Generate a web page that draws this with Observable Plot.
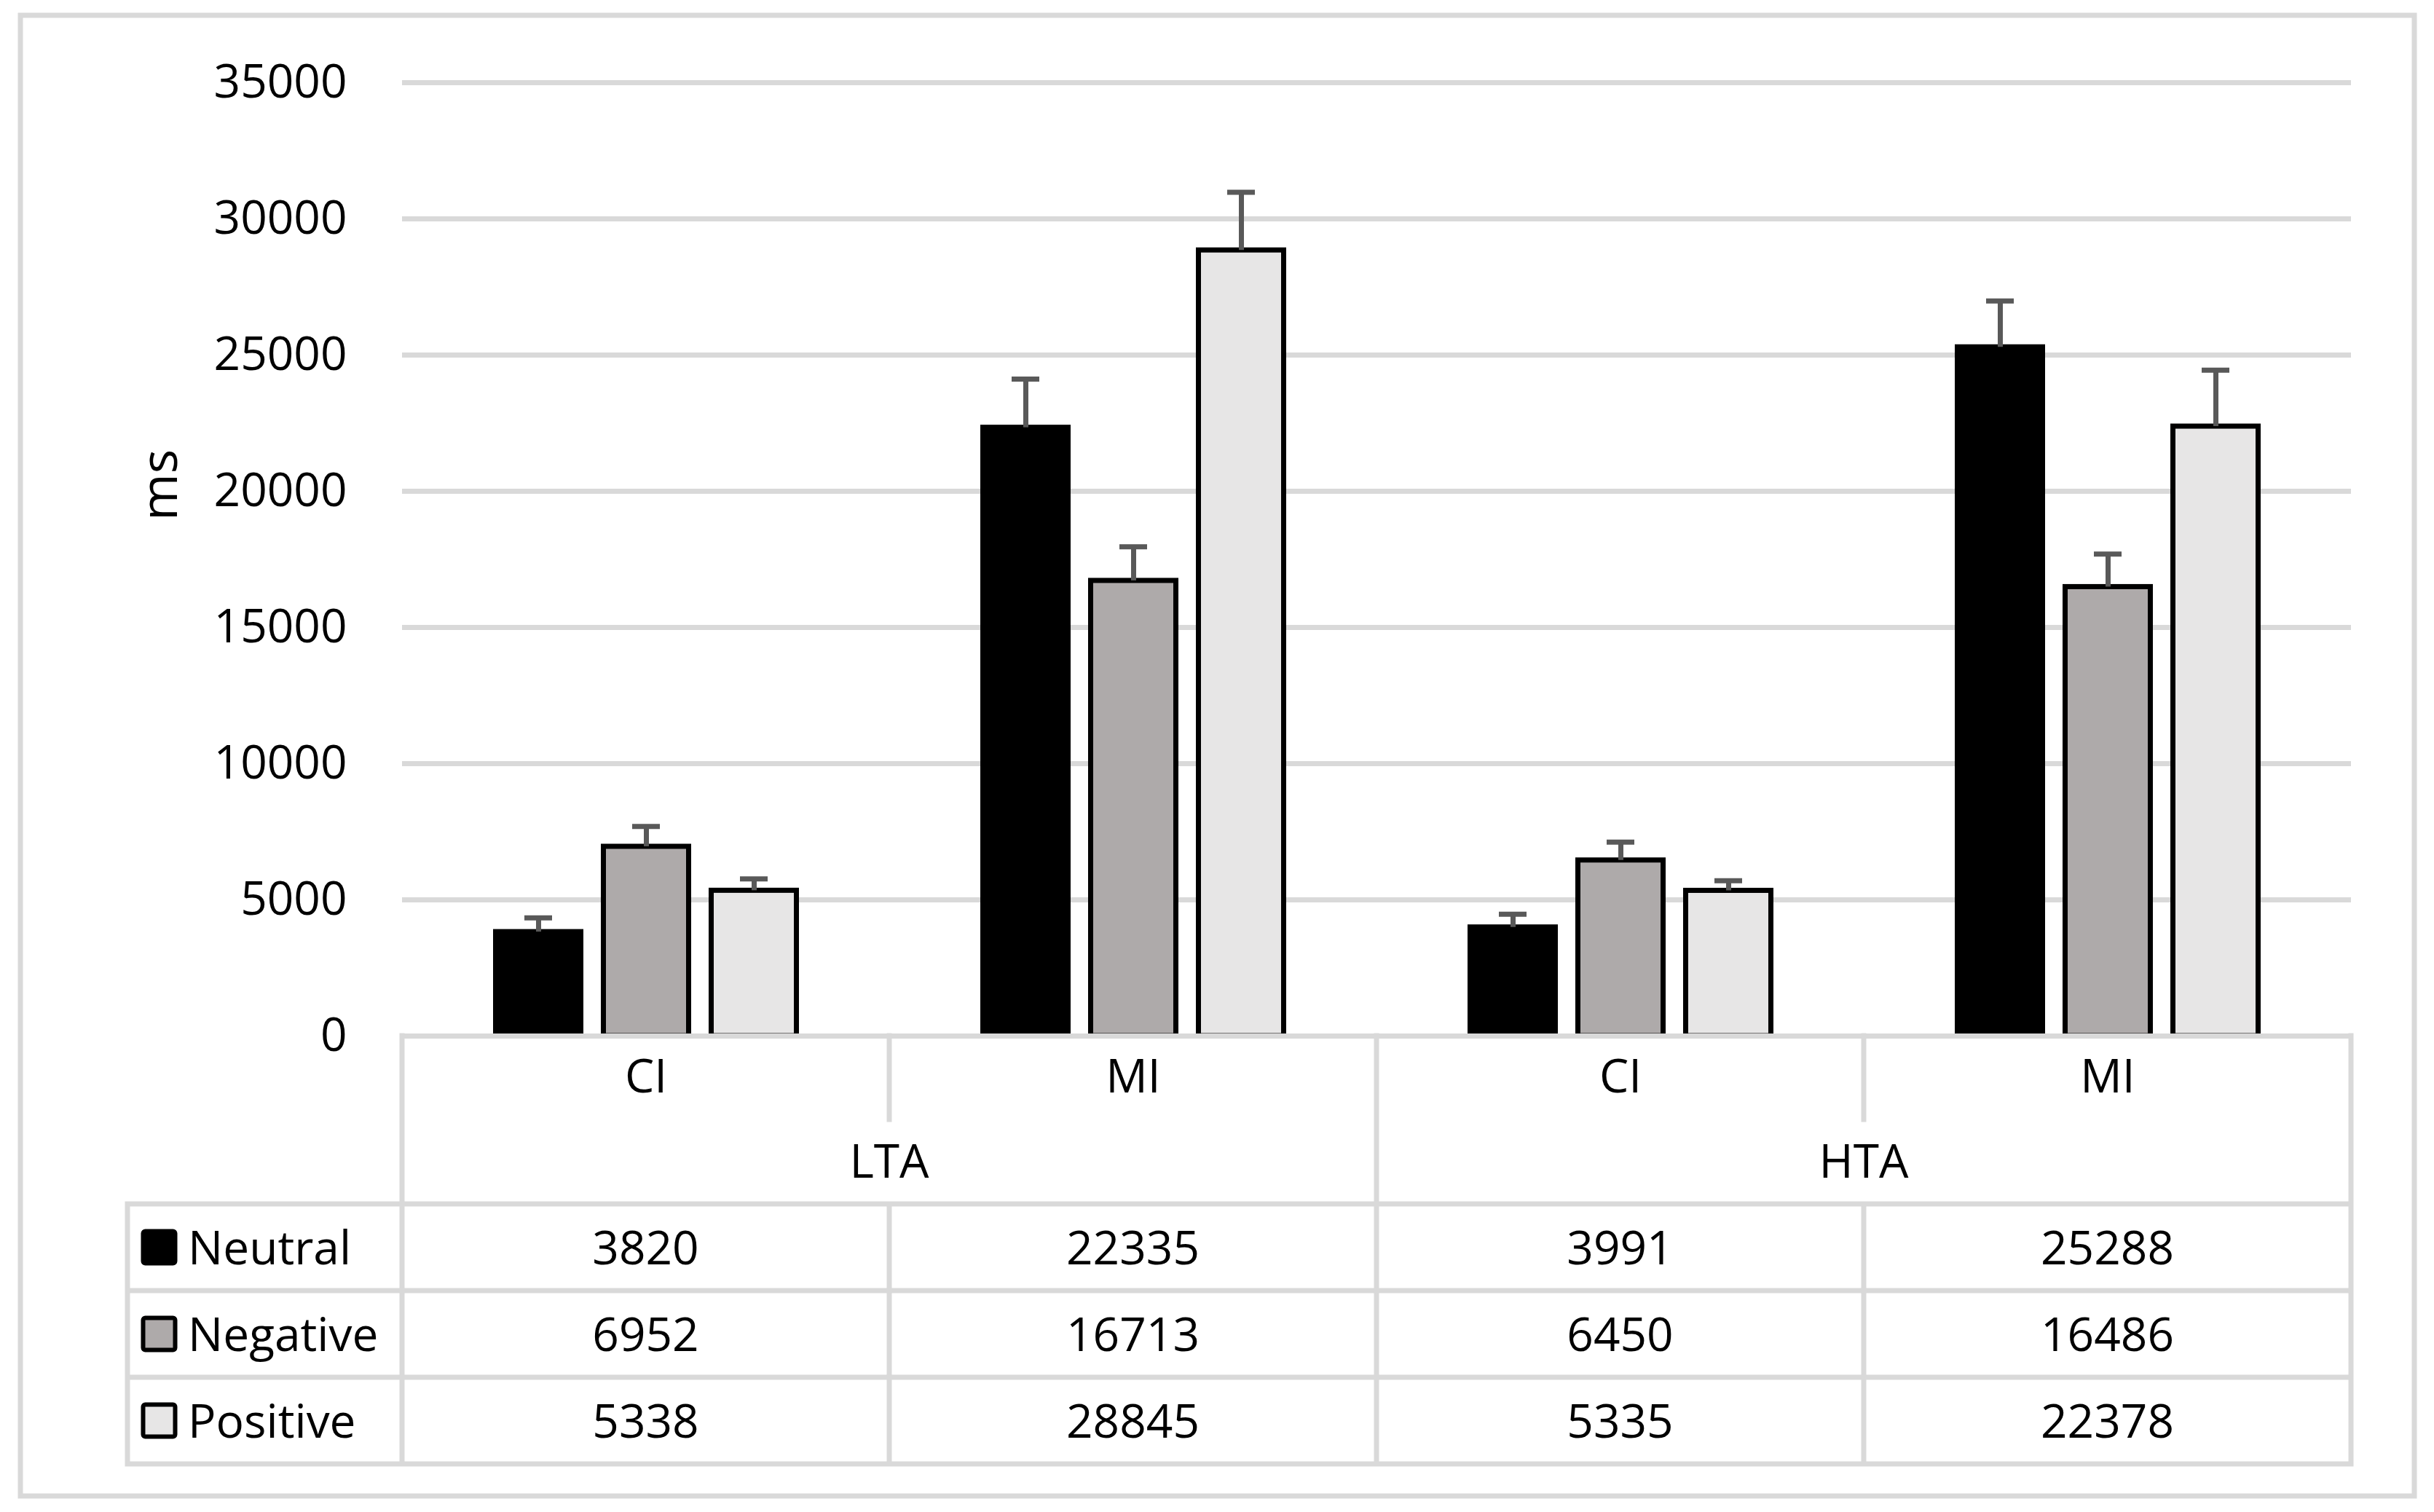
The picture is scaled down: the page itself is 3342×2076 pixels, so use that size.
<!DOCTYPE html>
<html>
<head>
<meta charset="utf-8">
<script src="https://cdn.jsdelivr.net/npm/d3@7"></script>
<script src="https://cdn.jsdelivr.net/npm/@observablehq/plot@0.6"></script>
<style>
html, body { margin: 0; padding: 0; background: #fff; }
svg { display: block; }
</style>
</head>
<body>
<div id="chart"></div>
<script>
// ---- data ----
const groups = ["LTA", "HTA"];
const conditions = ["CI", "MI"];
const series = ["Neutral", "Negative", "Positive"];
const seriesColors = ["#000000", "#AEAAAA", "#E7E6E6"];
const neutralMeans = [3820, 22335, 3991, 25288];
const negativeMeans = [6952, 16713, 6450, 16486];
const positiveMeans = [5338, 28845, 5335, 22378];
const neutralErrors = [520, 1780, 480, 1700];
const negativeErrors = [740, 1250, 670, 1210];
const positiveErrors = [430, 2130, 370, 2070];
const yTicks = [0, 5000, 10000, 15000, 20000, 25000, 30000, 35000];
const yLabel = "ms";

// ---- tidy table built from the arrays ----
const categories = groups.flatMap(g => conditions.map(c => ({key: g + " " + c, group: g, condition: c})));
const meansBySeries = [neutralMeans, negativeMeans, positiveMeans];
const errorsBySeries = [neutralErrors, negativeErrors, positiveErrors];
const data = [];
series.forEach((s, si) => categories.forEach((c, ci) => data.push({
  key: c.key, group: c.group, condition: c.condition, series: s,
  value: meansBySeries[si][ci], error: errorsBySeries[si][ci]
})));

// ---- style constants ----
const W = 3342, H = 2076;
const FONT = "'Open Sans', 'Noto Sans', sans-serif";
const FS = 64;
const GRID = "#d9d9d9";
const ERR = "#595959";

const plot = Plot.plot({
  width: W, height: H,
  marginLeft: 550, marginRight: 113, marginTop: 113, marginBottom: 654,
  style: {fontFamily: FONT, fontSize: FS + "px", background: "#fff", color: "#000", overflow: "visible"},
  fx: {domain: categories.map(c => c.key), padding: 0},
  x: {domain: series, paddingInner: 0.165, paddingOuter: 0.84, axis: null},
  y: {domain: [0, 35000]},
  color: {domain: series, range: seriesColors},
  marks: [
    Plot.gridY(yTicks, {stroke: GRID, strokeOpacity: 1, strokeWidth: 7}),
    Plot.barY(data, {fx: "key", x: "series", y: "value", fill: "series", stroke: "#000", strokeWidth: 7, insetLeft: 3.5, insetRight: 3.5}),
    Plot.ruleY([0], {stroke: GRID, strokeWidth: 7}),
    Plot.ruleX(data, {fx: "key", x: "series", y1: "value", y2: d => d.value + d.error, stroke: ERR, strokeWidth: 7}),
    Plot.tickY(data, {fx: "key", x: "series", y: d => d.value + d.error, stroke: ERR, strokeWidth: 7, insetLeft: 43, insetRight: 43}),
    Plot.axisY(yTicks, {tickSize: 0, tickPadding: 76, tickFormat: d3.format("d"), label: null}),
    Plot.axisFx({anchor: "bottom", tickSize: 0, tickPadding: 32, tickFormat: k => k.split(" ")[1], label: null})
  ]
});

document.getElementById("chart").appendChild(plot);

// ---- data table under the axis, positioned with Plot's own scales ----
const svg = d3.select(plot);
const fx = plot.scale("fx");
const yS = plot.scale("y");
const base = yS.apply(0);
const bw = fx.bandwidth;
const colX = k => fx.apply(k);
const left = colX(categories[0].key);
const right = colX(categories[categories.length - 1].key) + bw;
const legendLeft = 175;
const condH = 115, headH = 231, rowH = 119;
const tableBottom = base + headH + series.length * rowH;

const g = svg.append("g")
  .attr("font-family", FONT).attr("font-size", FS).attr("fill", "#000").attr("text-anchor", "start");

// outer chart border
g.append("rect").attr("x", 28).attr("y", 21).attr("width", 3287).attr("height", 2033)
  .attr("fill", "none").attr("stroke", GRID).attr("stroke-width", 7);

// table grid as one path
const segs = [];
const seg = (x1, y1, x2, y2) => segs.push(`M${x1},${y1}L${x2},${y2}`);
for (let i = 0; i <= series.length; i++) {
  const yy = base + headH + i * rowH;
  seg(legendLeft, yy, right, yy);
}
seg(legendLeft, base + headH, legendLeft, tableBottom);
seg(left, base, left, tableBottom);
seg(right, base, right, tableBottom);
for (let i = 1; i < categories.length; i++) {
  const xx = colX(categories[i].key);
  if (categories[i].group !== categories[i - 1].group) {
    seg(xx, base, xx, tableBottom);
  } else {
    seg(xx, base, xx, base + condH);
    seg(xx, base + headH, xx, tableBottom);
  }
}
g.append("path").attr("d", segs.join("")).attr("fill", "none")
  .attr("stroke", GRID).attr("stroke-width", 7).attr("stroke-linecap", "square");

// group labels
groups.forEach(gr => {
  const ks = categories.filter(c => c.group === gr).map(c => c.key);
  const cx = (colX(ks[0]) + colX(ks[ks.length - 1]) + bw) / 2;
  g.append("text").attr("x", cx).attr("y", base + 172).attr("dy", "0.36em")
    .attr("text-anchor", "middle").text(gr);
});

// value rows with legend keys
series.forEach((s, si) => {
  const cy = base + headH + si * rowH + rowH / 2;
  g.append("rect").attr("x", 196.5).attr("y", cy - 22).attr("width", 44).attr("height", 44)
    .attr("rx", 3).attr("fill", seriesColors[si]).attr("stroke", "#000").attr("stroke-width", 6);
  g.append("text").attr("x", 258).attr("y", cy).attr("dy", "0.36em")
    .attr("text-anchor", "start").text(s);
  categories.forEach((c, ci) => {
    g.append("text").attr("x", colX(c.key) + bw / 2).attr("y", cy).attr("dy", "0.36em")
      .attr("text-anchor", "middle").text(String(meansBySeries[si][ci]));
  });
});

// y-axis title
g.append("text").attr("transform", "translate(218,666) rotate(-90)").attr("dy", "0.36em")
  .attr("text-anchor", "middle").attr("font-size", 70).text(yLabel);
</script>
</body>
</html>
